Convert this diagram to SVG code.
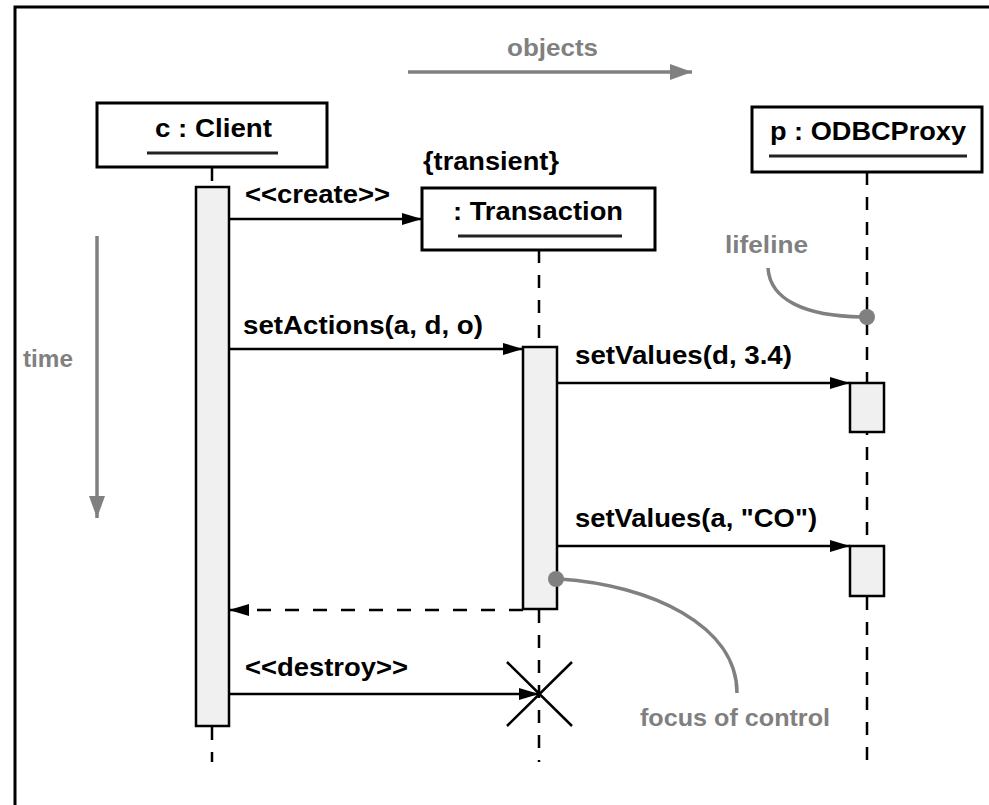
<svg xmlns="http://www.w3.org/2000/svg" width="989" height="805" viewBox="0 0 989 805">
  <style>
    .frame { stroke: #000; stroke-width: 3; fill: none; }
    .obj { fill: #fff; stroke: #000; stroke-width: 3; }
    .act { fill: #f0f0f0; stroke: #000; stroke-width: 2.5; }
    .uline { stroke: #222; stroke-width: 3; }
    .life { stroke: #000; stroke-width: 2.5; stroke-dasharray: 13 12; fill: none; }
    .msg { stroke: #000; stroke-width: 2.5; fill: none; }
    .ret { stroke: #000; stroke-width: 2.5; stroke-dasharray: 14 14; fill: none; }
    .note { stroke: #808080; stroke-width: 3.5; fill: none; }
    .lbl { font-family: "Liberation Sans", Arial, sans-serif; font-weight: bold; font-size: 25px; fill: #000; }
    .ann { font-family: "Liberation Sans", Arial, sans-serif; font-weight: bold; font-size: 24px; fill: #808080; }
  </style>
  <defs>
    <marker id="arrow" viewBox="0 0 20 12" refX="20" refY="6" markerWidth="20" markerHeight="12" markerUnits="userSpaceOnUse" orient="auto">
      <path d="M0,0 L20,6 L0,12 Z" fill="#000"/>
    </marker>
    <marker id="garrow" viewBox="0 0 22 16" refX="22" refY="8" markerWidth="22" markerHeight="16" markerUnits="userSpaceOnUse" orient="auto">
      <path d="M0,0 L22,8 L0,16 Z" fill="#808080"/>
    </marker>
  </defs>

  <rect width="989" height="805" fill="#fff"/>
  <!-- outer frame: left and top edges -->
  <path class="frame" d="M15,805 L15,7 L989,7"/>

  <!-- axis hints -->
  <g id="axis-objects">
    <line class="note" x1="408" y1="72" x2="692" y2="72" marker-end="url(#garrow)"/>
    <text class="ann" x="507" y="56" textLength="91" lengthAdjust="spacingAndGlyphs">objects</text>
  </g>
  <g id="axis-time">
    <line class="note" x1="97" y1="236" x2="97" y2="518" marker-end="url(#garrow)"/>
    <text class="ann" x="23" y="367" textLength="50" lengthAdjust="spacingAndGlyphs">time</text>
  </g>

  <!-- c : Client -->
  <g id="client">
    <line class="life" x1="212" y1="168" x2="212" y2="187" stroke-dasharray="13 6"/>
    <line class="life" x1="212" y1="727" x2="212" y2="762"/>
    <rect class="obj" x="97" y="103" width="230" height="64"/>
    <text class="lbl" x="155" y="137" textLength="117" lengthAdjust="spacingAndGlyphs">c : Client</text>
    <line class="uline" x1="147" y1="153" x2="278" y2="153"/>
    <rect class="act" x="196" y="187" width="33" height="539"/>
  </g>

  <!-- : Transaction -->
  <g id="transaction">
    <text class="lbl" x="423" y="170" textLength="136" lengthAdjust="spacingAndGlyphs">{transient}</text>
    <line class="life" x1="539" y1="250" x2="539" y2="347"/>
    <line class="life" x1="539" y1="610" x2="539" y2="762"/>
    <rect class="obj" x="422" y="188" width="233" height="62"/>
    <text class="lbl" x="453" y="220" textLength="170" lengthAdjust="spacingAndGlyphs">: Transaction</text>
    <line class="uline" x1="458" y1="236" x2="622" y2="236"/>
    <rect class="act" x="523" y="347" width="34" height="262"/>
    <!-- destruction mark -->
    <path d="M507,662 L572,726 M572,662 L507,726" stroke="#000" stroke-width="2.5"/>
  </g>

  <!-- p : ODBCProxy -->
  <g id="odbcproxy">
    <line class="life" x1="867" y1="172" x2="867" y2="762"/>
    <rect class="obj" x="752" y="107" width="230" height="65"/>
    <text class="lbl" x="770" y="140" textLength="196" lengthAdjust="spacingAndGlyphs">p : ODBCProxy</text>
    <line class="uline" x1="769" y1="156" x2="967" y2="156"/>
    <rect class="act" x="850" y="383" width="34" height="49"/>
    <rect class="act" x="850" y="546" width="34" height="50"/>
  </g>

  <!-- messages -->
  <g id="connectors">
    <line class="msg" x1="229" y1="219" x2="422" y2="219" marker-end="url(#arrow)"/>
    <text class="lbl" x="245" y="203" textLength="145" lengthAdjust="spacingAndGlyphs">&lt;&lt;create&gt;&gt;</text>

    <line class="msg" x1="229" y1="349" x2="523" y2="349" marker-end="url(#arrow)"/>
    <text class="lbl" x="243" y="334" textLength="240" lengthAdjust="spacingAndGlyphs">setActions(a, d, o)</text>

    <line class="msg" x1="557" y1="383" x2="850" y2="383" marker-end="url(#arrow)"/>
    <text class="lbl" x="575" y="364" textLength="217" lengthAdjust="spacingAndGlyphs">setValues(d, 3.4)</text>

    <line class="msg" x1="557" y1="546" x2="850" y2="546" marker-end="url(#arrow)"/>
    <text class="lbl" x="575" y="527" textLength="242" lengthAdjust="spacingAndGlyphs">setValues(a, "CO")</text>

    <line class="ret" x1="523" y1="610" x2="229" y2="610" marker-end="url(#arrow)"/>

    <line class="msg" x1="229" y1="694" x2="539" y2="694" marker-end="url(#arrow)"/>
    <text class="lbl" x="245" y="676" textLength="163" lengthAdjust="spacingAndGlyphs">&lt;&lt;destroy&gt;&gt;</text>
  </g>

  <!-- callouts -->
  <g id="note-lifeline">
    <path class="note" d="M768,268 C770,300 805,316 862,317"/>
    <circle cx="867" cy="317" r="8" fill="#808080"/>
    <text class="ann" x="725" y="253" textLength="83" lengthAdjust="spacingAndGlyphs">lifeline</text>
  </g>
  <g id="note-focus">
    <path class="note" d="M560,579 C650,585 737,625 737,693"/>
    <circle cx="556" cy="579" r="8" fill="#808080"/>
    <text class="ann" x="640" y="726" textLength="190" lengthAdjust="spacingAndGlyphs">focus of control</text>
  </g>
</svg>
